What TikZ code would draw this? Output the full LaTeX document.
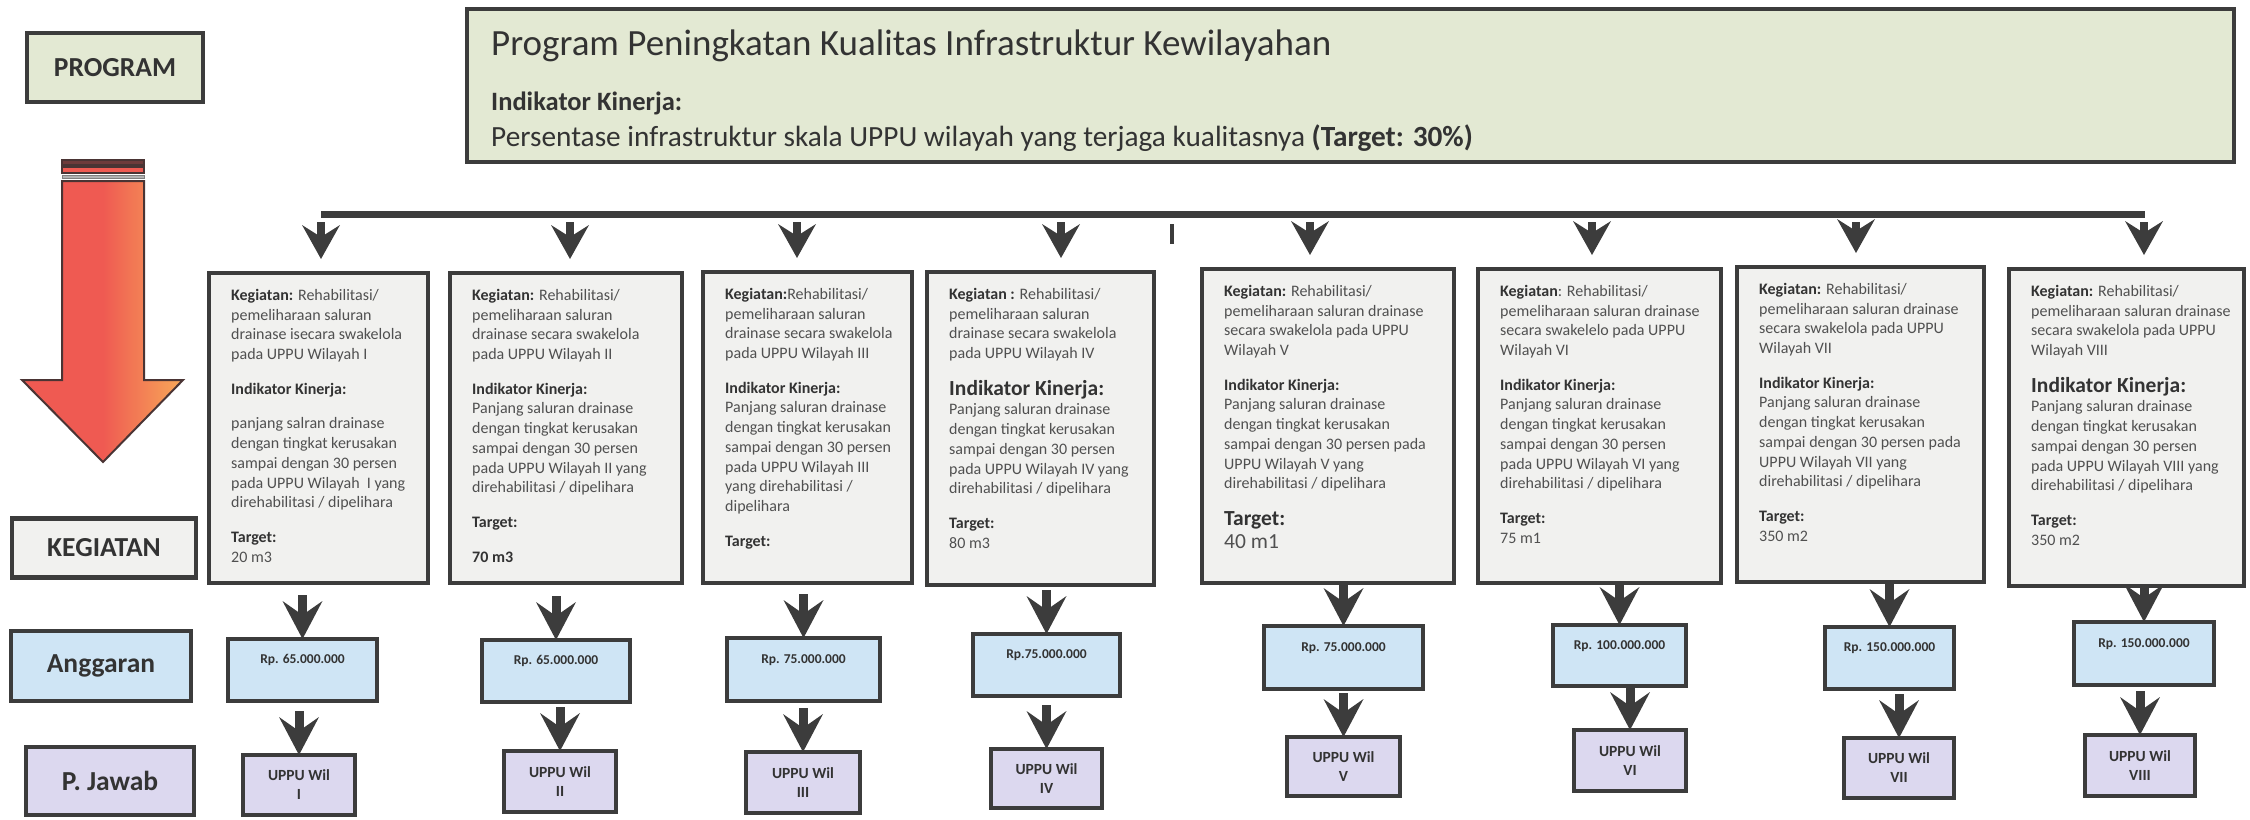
\documentclass[tikz,border=0pt]{standalone}
\usepackage{fontspec}
\setmainfont{Carlito}
\usetikzlibrary{arrows.meta,backgrounds}

\definecolor{linegray}{HTML}{3C3C3C}
\definecolor{txtgray}{HTML}{505050}
\definecolor{txtdark}{HTML}{333333}
\definecolor{progfill}{HTML}{E3E9D3}
\definecolor{kegfill}{HTML}{F1F1EF}
\definecolor{angfill}{HTML}{CFE5F5}
\definecolor{pjfill}{HTML}{DCD8EF}
\definecolor{arrowred}{HTML}{EF5A52}
\definecolor{arroworange}{HTML}{F7A858}
\definecolor{arrowdark}{HTML}{6E3B3B}
\definecolor{arrowline}{HTML}{4A3434}

\newcommand{\kglabel}[1]{\textbf{\color{txtdark}#1}}
\newcommand{\kgbig}[1]{{\fontsize{21.5}{24}\selectfont\kglabel{#1}}}

\tikzset{
  box/.style={draw=linegray, line width=4.5pt, inner sep=0pt, outer sep=0pt},
  sidebox/.style={box, text=txtdark, font=\bfseries\fontsize{27.5}{33}\selectfont},
  kegbox/.style={box, fill=kegfill},
  kegtext/.style={anchor=north west, align=left, inner sep=0pt, text=txtgray,
    font=\fontsize{16}{19.7}\selectfont},
  angbox/.style={box, fill=angfill, text=txtdark, text height=9.5pt, text depth=22pt,
    font=\bfseries\fontsize{13.5}{16}\selectfont},
  pjbox/.style={box, fill=pjfill, text=txtdark, align=center,
    font=\bfseries\fontsize{15.5}{19}\selectfont},
  bar/.style={draw=linegray, line width=7pt},
  toparrow/.style={draw=linegray, line width=8pt, shorten >=14pt,
    -{Stealth[length=34pt,width=38pt,inset=12pt,line width=0pt]}},
  lowarrow/.style={draw=linegray, line width=9pt,
    -{Stealth[length=38pt,width=40pt,inset=14pt,line width=0pt]}}
}

\begin{document}
\begin{tikzpicture}[x=1pt,y=-1pt]
\useasboundingbox (0,0) rectangle (2250,819);

% left column
\node[sidebox, fill=progfill, minimum width=176pt, minimum height=69pt] (lprog) at (115,67.5) {PROGRAM};
\node[sidebox, fill=kegfill, minimum width=184pt, minimum height=59pt] (lkeg) at (104,548) {KEGIATAN};
\node[sidebox, fill=angfill, minimum width=180pt, minimum height=70pt] (lang) at (101,666) {Anggaran};
\node[sidebox, fill=pjfill, minimum width=168pt, minimum height=68pt] (lpj) at (110,781) {P. Jawab};

% big red arrow
\shadedraw[draw=arrowline, line width=2pt, left color=arrowred, right color=arroworange, middle color=arrowred]
  (62,181) -- (62,380) -- (22,380) -- (103,462) -- (183,380) -- (144,380) -- (144,181) -- cycle;
\filldraw[draw=arrowline, line width=1.5pt, fill=arrowdark] (62,160) rectangle (144,165);
\filldraw[draw=arrowline, line width=1.5pt, fill=arrowred] (62,167) rectangle (144,173);
\filldraw[draw=gray, line width=1pt, fill=gray!60] (62,175) rectangle (144,178);

% program
\node[box, fill=progfill, minimum width=1767pt, minimum height=153pt] (prog) at (1350.5,85.5) {};
\node[anchor=base west, inner sep=0pt, text=txtdark, font=\fontsize{37}{44}\selectfont] (ptitle) at (491,55)
  {Program Peningkatan Kualitas Infrastruktur Kewilayahan};
\node[anchor=base west, inner sep=0pt, text=txtdark, font=\bfseries\fontsize{26.5}{32}\selectfont] (pind) at (491,110)
  {Indikator Kinerja:};
\node[anchor=base west, inner sep=0pt, text=txtdark, font=\fontsize{29.3}{34}\selectfont] (pval) at (491,146)
  {Persentase infrastruktur skala UPPU wilayah yang terjaga kualitasnya \textbf{(Target: 30\%)}};

% distribution bar
\coordinate (bar0) at (321,214);
\coordinate (bar1) at (2145,214);
\draw[bar] (bar0) -- (bar1);
\draw[draw=linegray, line width=4pt] (1172,224) -- (1172,244);

% kegiatan
\node[kegbox, minimum width=219pt, minimum height=310pt] (keg1) at (318.5,428) {};
\node[kegbox, minimum width=232pt, minimum height=310pt] (keg2) at (566,428) {};
\node[kegbox, minimum width=209pt, minimum height=311pt] (keg3) at (807.5,427.5) {};
\node[kegbox, minimum width=227pt, minimum height=313pt] (keg4) at (1040.5,428.5) {};
\node[kegbox, minimum width=252pt, minimum height=314pt] (keg5) at (1328,426) {};
\node[kegbox, minimum width=243pt, minimum height=314pt] (keg6) at (1599.5,426) {};
\node[kegbox, minimum width=247pt, minimum height=315pt] (keg7) at (1860.5,424.5) {};
\node[kegbox, minimum width=235pt, minimum height=317pt] (keg8) at (2126.5,427.5) {};

\node[kegtext] (kt1) at ([xshift=22pt,yshift=-16pt]keg1.north west) {\kglabel{Kegiatan:} Rehabilitasi/\\
  pemeliharaan saluran\\ drainase isecara swakelola\\ pada UPPU Wilayah I\\[15pt]
  \kglabel{Indikator Kinerja:}\\[15pt]
  panjang salran drainase\\ dengan tingkat kerusakan\\ sampai dengan 30 persen\\
  pada UPPU Wilayah\ \ I yang\\ direhabilitasi / dipelihara\\[15pt]
  \kglabel{Target:}\\ 20 m3};
\node[kegtext] (kt2) at ([xshift=22pt,yshift=-16pt]keg2.north west) {\kglabel{Kegiatan:} Rehabilitasi/\\
  pemeliharaan saluran\\ drainase secara swakelola\\ pada UPPU Wilayah II\\[15pt]
  \kglabel{Indikator Kinerja:}\\
  Panjang saluran drainase\\ dengan tingkat kerusakan\\ sampai dengan 30 persen\\
  pada UPPU Wilayah II yang\\ direhabilitasi / dipelihara\\[15pt]
  \kglabel{Target:}\\[15pt] \kglabel{70 m3}};
\node[kegtext] (kt3) at ([xshift=22pt,yshift=-16pt]keg3.north west) {\kglabel{Kegiatan:}Rehabilitasi/\\
  pemeliharaan saluran\\ drainase secara swakelola\\ pada UPPU Wilayah III\\[15pt]
  \kglabel{Indikator Kinerja:}\\
  Panjang saluran drainase\\ dengan tingkat kerusakan\\ sampai dengan 30 persen\\
  pada UPPU Wilayah III\\ yang direhabilitasi /\\ dipelihara\\[15pt]
  \kglabel{Target:}};
\node[kegtext] (kt4) at ([xshift=22pt,yshift=-16pt]keg4.north west) {\kglabel{Kegiatan :} Rehabilitasi/\\
  pemeliharaan saluran\\ drainase secara swakelola\\ pada UPPU Wilayah IV\\[17pt]
  \kgbig{Indikator Kinerja:}\\
  Panjang saluran drainase\\ dengan tingkat kerusakan\\ sampai dengan 30 persen\\
  pada UPPU Wilayah IV yang\\ direhabilitasi / dipelihara\\[15pt]
  \kglabel{Target:}\\ 80 m3};
\node[kegtext] (kt5) at ([xshift=22pt,yshift=-16pt]keg5.north west) {\kglabel{Kegiatan:} Rehabilitasi/\\
  pemeliharaan saluran drainase\\ secara swakelola pada UPPU\\ Wilayah V\\[15pt]
  \kglabel{Indikator Kinerja:}\\
  Panjang saluran drainase\\ dengan tingkat kerusakan\\ sampai dengan 30 persen pada\\
  UPPU Wilayah V yang\\ direhabilitasi / dipelihara\\[17pt]
  \kgbig{Target:}\\[3pt] {\fontsize{21.5}{24}\selectfont 40 m1}};
\node[kegtext] (kt6) at ([xshift=22pt,yshift=-16pt]keg6.north west) {\kglabel{Kegiatan}: Rehabilitasi/\\
  pemeliharaan saluran drainase\\ secara swakelelo pada UPPU\\ Wilayah VI\\[15pt]
  \kglabel{Indikator Kinerja:}\\
  Panjang saluran drainase\\ dengan tingkat kerusakan\\ sampai dengan 30 persen\\
  pada UPPU Wilayah VI yang\\ direhabilitasi / dipelihara\\[15pt]
  \kglabel{Target:}\\ 75 m1};
\node[kegtext] (kt7) at ([xshift=22pt,yshift=-16pt]keg7.north west) {\kglabel{Kegiatan:} Rehabilitasi/\\
  pemeliharaan saluran drainase\\ secara swakelola pada UPPU\\ Wilayah VII\\[15pt]
  \kglabel{Indikator Kinerja:}\\
  Panjang saluran drainase\\ dengan tingkat kerusakan\\ sampai dengan 30 persen pada\\
  UPPU Wilayah VII yang\\ direhabilitasi / dipelihara\\[15pt]
  \kglabel{Target:}\\ 350 m2};
\node[kegtext] (kt8) at ([xshift=22pt,yshift=-16pt]keg8.north west) {\kglabel{Kegiatan:} Rehabilitasi/\\
  pemeliharaan saluran drainase\\ secara swakelola pada UPPU\\ Wilayah VIII\\[17pt]
  \kgbig{Indikator Kinerja:}\\
  Panjang saluran drainase\\ dengan tingkat kerusakan\\ sampai dengan 30 persen\\
  pada UPPU Wilayah VIII yang\\ direhabilitasi / dipelihara\\[15pt]
  \kglabel{Target:}\\ 350 m2};

% anggaran
\node[angbox, minimum width=149pt, minimum height=62pt] (ang1) at (302.5,670) {Rp. 65.000.000};
\node[angbox, minimum width=148pt, minimum height=62pt] (ang2) at (556,671) {Rp. 65.000.000};
\node[angbox, minimum width=153pt, minimum height=63pt] (ang3) at (803.5,669.5) {Rp. 75.000.000};
\node[angbox, minimum width=147pt, minimum height=62pt] (ang4) at (1046.5,665) {Rp.75.000.000};
\node[angbox, minimum width=159pt, minimum height=63pt] (ang5) at (1343.5,657.5) {Rp. 75.000.000};
\node[angbox, minimum width=133pt, minimum height=61pt] (ang6) at (1619.5,655.5) {Rp. 100.000.000};
\node[angbox, minimum width=129pt, minimum height=62pt] (ang7) at (1889.5,658) {Rp. 150.000.000};
\node[angbox, minimum width=140pt, minimum height=63pt] (ang8) at (2144,653.5) {Rp. 150.000.000};

% penanggung jawab
\node[pjbox, minimum width=112pt, minimum height=60pt] (pj1) at (299,785) {UPPU Wil\\I};
\node[pjbox, minimum width=112pt, minimum height=61pt] (pj2) at (560,781.5) {UPPU Wil\\II};
\node[pjbox, minimum width=114pt, minimum height=61pt] (pj3) at (803,782.5) {UPPU Wil\\III};
\node[pjbox, minimum width=111pt, minimum height=59pt] (pj4) at (1046.5,778.5) {UPPU Wil\\IV};
\node[pjbox, minimum width=113pt, minimum height=59pt] (pj5) at (1343.5,766.5) {UPPU Wil\\V};
\node[pjbox, minimum width=112pt, minimum height=61pt] (pj6) at (1630,760.5) {UPPU Wil\\VI};
\node[pjbox, minimum width=110pt, minimum height=60pt] (pj7) at (1899,768) {UPPU Wil\\VII};
\node[pjbox, minimum width=110pt, minimum height=61pt] (pj8) at (2140,765.5) {UPPU Wil\\VIII};

% arrows
\foreach \x [count=\i] in {321,570,797,1061,1310,1592,1856,2144}
  \coordinate (ta\i) at (\x,222);
\begin{scope}[on background layer]
\foreach \i in {1,...,8}
  \draw[toparrow] (ta\i) -- (ta\i |- keg\i.north);
\foreach \i/\sa/\sb in {1/12/10,2/13/5,3/11/7,4/5/9,5/0/4,6/0/0,7/1/5,8/0/6}{
  \draw[lowarrow, shorten <=\sa pt] (ang\i.north |- keg\i.south) -- (ang\i.north);
  \draw[lowarrow, shorten <=\sb pt] (pj\i.north |- ang\i.south) -- (pj\i.north);
}
\end{scope}
\end{tikzpicture}
\end{document}
